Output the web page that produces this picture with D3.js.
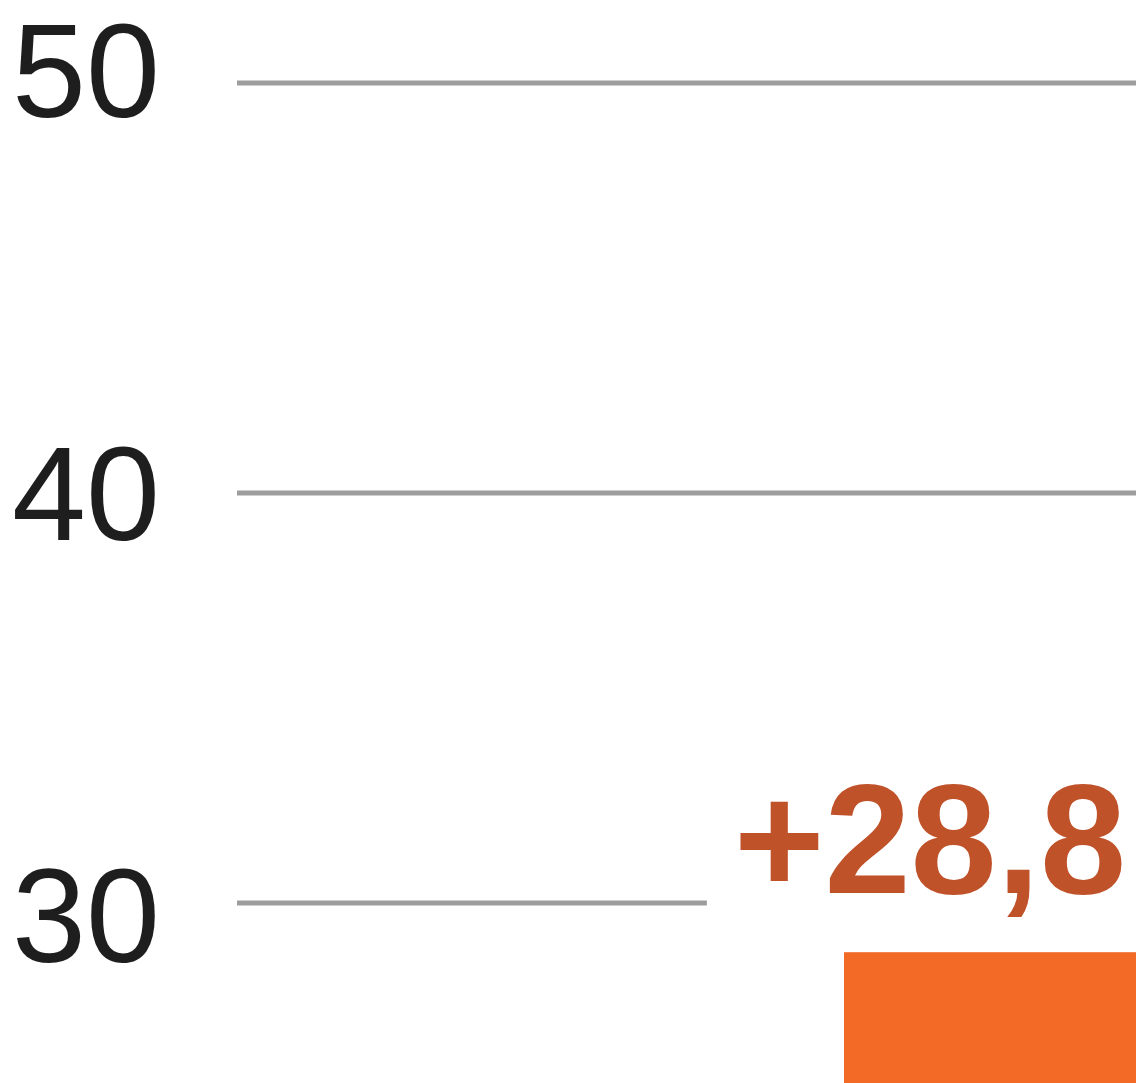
<!DOCTYPE html>
<html lang="en">
<head>
	<meta charset="UTF-8">
	<title>Bar chart</title>
	<script src="https://d3js.org/d3.v7.min.js"></script>
	<style>
		html, body { margin: 0; padding: 0; background: #fff; overflow: hidden; }
		svg { display: block; font-family: "Liberation Sans", Arial, sans-serif; }
	</style>
</head>
<body>
	<div id="chart"></div>
	<script>
		// data
		const categories = ["Wachstum"];
		const values = [28.8];
		const valueLabels = ["+28,8"];
		const tickValues = [30, 40, 50];

		const width = 1136, height = 1083;
		const margin = { left: 237, right: 0 };

		const svg = d3.select("#chart").append("svg")
			.attr("width", width)
			.attr("height", height);

		const y = d3.scaleLinear()
			.domain([30, 50])
			.range([903, 83]);

		// tick labels sit on a slightly wider spacing than the gridlines
		const yLabel = d3.scaleLinear()
			.domain([30, 50])
			.range([962, 117]);

		// bar runs off the right edge of the picture
		const x = d3.scaleBand()
			.domain(categories)
			.range([844, 1316])
			.padding(0);

		// gridlines
		svg.append("g").selectAll("line")
			.data(tickValues)
			.join("line")
			.attr("x1", margin.left)
			.attr("x2", width)
			.attr("y1", d => y(d))
			.attr("y2", d => y(d))
			.attr("stroke", "#9d9d9d")
			.attr("stroke-width", 5);

		// tick labels
		svg.append("g").selectAll("text")
			.data(tickValues)
			.join("text")
			.attr("x", 160)
			.attr("y", d => yLabel(d))
			.attr("text-anchor", "end")
			.attr("fill", "#1e1e1e")
			.style("font-size", "133px")
			.text(d => d);

		// value labels, with a white box that cuts the gridline
		const lab = svg.append("g").selectAll("g")
			.data(categories)
			.join("g");

		const txt = lab.append("text")
			.attr("x", (d, i) => x(d) + 86)
			.attr("y", (d, i) => y(values[i]) - 59)
			.attr("text-anchor", "middle")
			.attr("fill", "#c0522a")
			.style("font-size", "155px")
			.style("font-weight", "bold")
			.text((d, i) => valueLabels[i]);

		txt.each(function () {
			const b = this.getBBox();
			d3.select(this.parentNode).insert("rect", "text")
				.attr("x", b.x - 27)
				.attr("y", b.y)
				.attr("width", b.width + 54)
				.attr("height", b.height)
				.attr("fill", "#fff");
		});

		// bars
		svg.append("g").selectAll("rect")
			.data(categories)
			.join("rect")
			.attr("x", d => x(d))
			.attr("width", x.bandwidth())
			.attr("y", (d, i) => y(values[i]))
			.attr("height", (d, i) => height - y(values[i]))
			.attr("fill", "#f26a25");
	</script>
</body>
</html>
